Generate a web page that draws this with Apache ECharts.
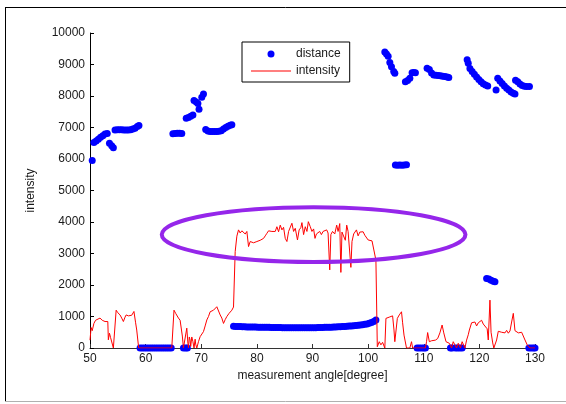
<!DOCTYPE html>
<html>
<head>
<meta charset="utf-8">
<script src="https://cdn.jsdelivr.net/npm/echarts@6/dist/echarts.min.js"></script>
<style>
  html, body { margin: 0; padding: 0; background: #fff; }
  #chart { width: 566px; height: 404px; }
</style>
</head>
<body>
<div id="chart"></div>
<script>
// Tick values for both axes
const angleTicks = [50, 60, 70, 80, 90, 100, 110, 120, 130];
const intensityTicks = [0, 1000, 2000, 3000, 4000, 5000, 6000, 7000, 8000, 9000, 10000];

// Measured range per scan angle: [angle (deg), distance]
const distance = [
  [50.4,5950],
  [50.7,6520],[51.1,6570],[51.5,6630],[51.9,6690],[52.3,6740],[52.7,6790],[53.1,6810],
  [53.5,6500],[53.9,6420],[54.2,6360],
  [54.5,6920],[54.9,6930],[55.3,6930],[55.7,6930],[56.1,6920],[56.5,6920],[56.9,6920],
  [57.3,6930],[57.7,6950],[58.1,6980],[58.5,7030],[58.8,7060],
  [59.0,0],[59.4,0],[59.8,0],[60.2,0],[60.6,0],[61.0,0],[61.4,0],[61.8,0],[62.2,0],
  [62.6,0],[63.0,0],[63.4,0],[63.8,0],[64.2,0],[64.6,0],
  [64.9,6800],[65.3,6810],[65.7,6820],[66.1,6820],[66.5,6810],
  [66.8,0],[67.2,0],[67.5,0],
  [67.3,7290],[67.7,7320],[68.1,7360],[68.5,7400],
  [68.7,7860],[69.1,7810],[69.4,7760],[69.6,7580],
  [70.1,7960],[70.4,8060],
  [70.8,6940],[71.2,6890],[71.6,6870],[72.0,6870],[72.4,6870],[72.8,6870],[73.2,6880],
  [73.6,6900],[74.0,6950],[74.4,7000],[74.8,7040],[75.2,7070],[75.5,7090],
  [75.8,690],[76.2,685],[76.6,680],[77.0,680],[77.4,675],[77.8,675],[78.2,670],[78.6,670],
  [79.0,668],[79.4,665],[79.8,665],[80.2,662],[80.6,660],[81.0,660],[81.4,658],[81.8,655],
  [82.2,655],[82.6,652],[83.0,650],[83.4,650],[83.8,648],[84.2,648],[84.6,645],[85.0,645],
  [85.4,645],[85.8,643],[86.2,643],[86.6,643],[87.0,642],[87.4,642],[87.8,642],[88.2,642],
  [88.6,643],[89.0,643],[89.4,643],[89.8,645],[90.2,645],[90.6,645],[91.0,647],[91.4,650],
  [91.8,652],[92.2,655],[92.6,658],[93.0,660],[93.4,662],[93.8,665],[94.2,668],[94.6,672],
  [95.0,676],[95.4,680],[95.8,685],[96.2,690],[96.6,696],[97.0,702],[97.4,708],[97.8,715],
  [98.2,722],[98.6,730],[99.0,740],[99.4,752],[99.8,765],[100.2,785],[100.6,810],
  [101.0,845],[101.4,890],
  [103.0,9400],[103.3,9330],[103.6,9260],[103.9,9060],[104.2,8930],[104.6,8780],[104.8,8720],
  [104.9,5810],[105.3,5800],[105.7,5810],[106.1,5800],[106.5,5810],[106.9,5820],
  [106.7,8450],[107.1,8490],[107.5,8560],[107.9,8740],[108.2,8750],[108.5,8740],
  [108.8,0],[109.2,0],[109.6,0],[110.0,0],[110.3,0],
  [110.6,8880],[111.0,8840],[111.4,8730],[111.8,8670],[112.2,8660],[112.6,8650],
  [113.0,8640],[113.4,8630],[113.8,8620],[114.2,8600],[114.5,8590],
  [114.8,0],[115.1,0],[115.7,0],[116.1,0],[116.5,0],[116.9,0],
  [117.8,9150],[118.0,9040],[118.3,8870],[118.7,8780],[119.1,8690],[119.5,8600],
  [119.9,8520],[120.3,8450],[120.7,8390],[121.1,8350],[121.5,8320],
  [121.3,2210],[121.7,2190],[122.1,2150],[122.5,2120],[122.8,2100],
  [123.0,8190],
  [123.3,8560],[123.7,8480],[124.1,8400],[124.5,8320],[124.9,8250],[125.3,8190],
  [125.7,8130],[126.1,8090],[126.4,8060],
  [126.5,8500],[126.9,8450],[127.3,8380],[127.7,8330],[128.1,8310],[128.5,8300],[129.0,8300],
  [128.9,0],[129.3,0],[129.7,0],[130.0,0]
];

// Return signal strength per scan angle: [angle (deg), intensity]
const intensity = [
  [50.0,250],[50.2,650],[50.4,550],[50.7,780],[51.0,880],[51.3,940],[51.8,950],[52.2,880],
  [52.7,840],[53.0,860],[53.2,840],[53.3,260],[53.5,470],[53.7,330],[53.9,360],[54.2,0],
  [54.5,0],[54.7,1200],[55.0,1120],[55.4,1050],[55.7,950],[56.0,840],[56.3,980],[56.5,1050],
  [56.9,1020],[57.2,1060],[57.5,1040],[57.7,1100],[57.9,1160],[58.2,800],[58.4,570],
  [58.75,0],[64.7,0],
  [65.1,1200],[65.4,1100],[65.6,1050],[65.9,950],[66.2,880],[66.4,820],[66.6,380],[66.8,0],
  [67.1,0],[67.4,630],[67.6,150],[67.7,0],[67.85,350],[68.0,250],[68.1,50],[68.3,350],
  [68.5,200],[68.7,0],[68.9,280],[69.0,120],[69.2,0],
  [69.5,200],[69.8,360],[70.1,420],[70.4,520],[70.7,700],[71.0,890],[71.3,1000],[71.6,1150],
  [71.9,1100],[72.2,1200],[72.5,1250],[72.8,1310],[73.1,1360],[73.4,1050],[73.7,950],
  [74.0,780],[74.3,900],[74.6,1000],[75.0,1100],[75.5,1200],[75.8,1300],
  [76.1,3060],[76.4,3550],[76.7,3750],[77.0,3650],[77.3,3720],[77.6,3760],[77.9,3620],
  [78.2,3700],[78.5,3220],[78.8,3380],[79.1,3320],[79.4,3340],[79.7,3290],[80.0,3380],
  [80.3,3340],[80.6,3420],[80.9,3430],[81.2,3480],[81.5,3560],[81.8,3640],[82.1,3720],
  [82.4,3750],[82.7,3700],[83.0,3760],[83.3,3700],[83.6,3850],[83.9,3690],[84.2,3900],
  [84.5,3750],[84.8,3830],[85.1,3480],[85.4,3380],[85.7,3700],[86.0,3650],[86.3,3960],
  [86.6,3700],[86.9,3800],[87.3,3430],[87.6,3750],[87.9,3820],[88.1,3980],[88.4,3600],
  [88.7,3850],[89.0,3700],[89.25,4010],[89.6,3850],[89.9,3700],[90.2,3780],[90.45,3480],
  [90.7,3620],[91.0,3650],[91.3,3700],[91.6,3600],[91.9,3700],[92.2,3650],[92.55,3750],
  [92.8,3650],[93.1,2480],[93.3,3600],[93.6,3700],[94.0,3620],[94.35,3900],[94.6,3700],
  [94.9,3950],[95.1,2400],[95.3,3680],[95.6,3620],[95.9,3420],[96.15,3900],[96.4,3700],
  [96.7,3750],[96.9,2560],[97.1,3380],[97.4,3620],[97.7,3600],[97.9,3750],[98.2,3560],
  [98.5,3680],[98.8,3620],[99.1,3690],[99.4,3580],[99.7,3600],[100.0,3430],[100.3,3480],
  [100.7,3400],[101.05,3380],[101.4,2790],[101.65,40],
  [102.0,200],[102.3,100],[102.6,180],[103.0,0],[103.2,940],[103.5,1000],[103.8,980],
  [104.1,1000],[104.4,1020],[104.65,570],[104.8,200],[105.0,160],[105.25,940],[105.6,1050],
  [106.0,1150],[106.2,800],[106.45,410],[106.7,450],[106.9,0],[107.5,0],[107.8,200],[108.0,0],
  [110.3,0],[110.5,200],[110.7,490],[111.0,200],[111.4,230],[111.7,200],[112.1,250],
  [112.5,300],[112.9,480],[113.3,730],[113.6,480],[114.0,200],[114.3,220],[114.6,150],
  [115.0,0],[115.3,200],[115.6,180],[115.9,0],[116.2,150],[116.4,200],[116.6,0],[116.9,200],
  [117.1,150],[117.4,0],[117.7,250],[118.0,420],[118.2,570],[118.6,800],[118.9,760],
  [119.2,825],[119.5,700],[119.8,800],[120.1,825],[120.4,880],[120.7,760],[121.0,700],
  [121.4,610],[121.6,254],[121.9,1520],[122.1,500],[122.4,160],[122.6,0],[123.1,254],
  [123.4,530],[123.7,550],[124.0,500],[124.3,520],[124.6,480],[124.9,560],[125.2,470],
  [125.5,540],[125.8,825],[126.1,1100],[126.4,550],[126.7,540],[127.0,480],[127.3,520],
  [127.6,500],[127.9,480],[128.2,254],[128.6,100],[129.1,0],[130.0,0]
];

// Highlighted plateau region, in data units (angle, intensity)
const plateauMark = { center: [90.2, 3600], radius: [27.3, 870] };

const FONT = 'Arial, "Liberation Sans", Helvetica, sans-serif';
const TEXT = '#1a1a1a';
// Thin horizontal stroke for the line-series legend key (bounds span the full 40x7 icon box)
const LINE_KEY = 'path://M0,0L0,0M0,3L40,3L40,4L0,4ZM40,7L40,7';

const chart = echarts.init(document.getElementById('chart'), null, { renderer: 'canvas' });

chart.setOption({
  animation: false,
  backgroundColor: '#fff',
  textStyle: { fontFamily: FONT },
  grid: { left: 90, right: 31, top: 33, bottom: 56, containLabel: false },
  legend: {
    orient: 'vertical',
    left: 242,
    top: 42,
    padding: [6, 9, 5, 9],
    itemWidth: 40,
    itemHeight: 7,
    itemGap: 5,
    borderColor: '#000',
    borderWidth: 1,
    backgroundColor: '#fff',
    textStyle: { fontFamily: FONT, fontSize: 12, color: TEXT, lineHeight: 12 },
    data: [
      { name: 'distance', icon: 'circle' },
      { name: 'intensity', icon: LINE_KEY, itemStyle: { color: '#ff0000', borderWidth: 0 } }
    ]
  },
  xAxis: {
    type: 'value',
    min: angleTicks[0],
    max: angleTicks[angleTicks.length - 1],
    interval: angleTicks[1] - angleTicks[0],
    name: 'measurement angle[degree]',
    nameLocation: 'middle',
    nameGap: 18,
    nameTextStyle: { fontFamily: FONT, fontSize: 12, color: TEXT },
    axisLine: { lineStyle: { color: '#333', width: 1 } },
    axisTick: { inside: true, length: 4, lineStyle: { color: '#333' } },
    axisLabel: { margin: 5, fontFamily: FONT, fontSize: 12, color: TEXT, formatter: v => String(v) },
    splitLine: { show: false }
  },
  yAxis: {
    type: 'value',
    min: intensityTicks[0],
    max: intensityTicks[intensityTicks.length - 1],
    interval: intensityTicks[1] - intensityTicks[0],
    name: 'intensity',
    nameLocation: 'middle',
    nameGap: 53,
    nameTextStyle: { fontFamily: FONT, fontSize: 12, color: TEXT },
    axisLine: { show: true, lineStyle: { color: '#000', width: 1 } },
    axisTick: { show: true, inside: true, length: 4, lineStyle: { color: '#000' } },
    axisLabel: { margin: 5, fontFamily: FONT, fontSize: 12, color: TEXT, formatter: v => String(v) },
    splitLine: { show: false }
  },
  series: [
    {
      name: 'distance',
      type: 'scatter',
      data: distance,
      symbol: 'circle',
      symbolSize: 7,
      itemStyle: { color: '#0000ff', opacity: 1 },
      z: 2
    },
    {
      name: 'intensity',
      type: 'line',
      data: intensity,
      symbol: 'none',
      showSymbol: false,
      lineStyle: { color: '#ff0000', width: 1 },
      itemStyle: { color: '#ff0000' },
      z: 3
    }
  ]
});

// Outline ellipse around the plateau, plus the figure frame
const c = chart.convertToPixel({ gridIndex: 0 }, plateauMark.center);
const e = chart.convertToPixel({ gridIndex: 0 }, [
  plateauMark.center[0] + plateauMark.radius[0],
  plateauMark.center[1] + plateauMark.radius[1]
]);

chart.setOption({
  graphic: [
    {
      type: 'ellipse',
      shape: { cx: c[0], cy: c[1], rx: e[0] - c[0], ry: c[1] - e[1] },
      style: { fill: 'none', stroke: '#9526ea', lineWidth: 4 },
      z: 10
    },
    { type: 'line', shape: { x1: 5.5, y1: 7, x2: 5.5, y2: 402 }, style: { stroke: '#000', lineWidth: 1 }, z: 20 },
    { type: 'line', shape: { x1: 5, y1: 7.5, x2: 566, y2: 7.5 }, style: { stroke: '#000', lineWidth: 1 }, z: 20 },
    { type: 'line', shape: { x1: 5, y1: 401.5, x2: 566, y2: 401.5 }, style: { stroke: '#b0b0b0', lineWidth: 1 }, z: 20 }
  ]
});
</script>
</body>
</html>
